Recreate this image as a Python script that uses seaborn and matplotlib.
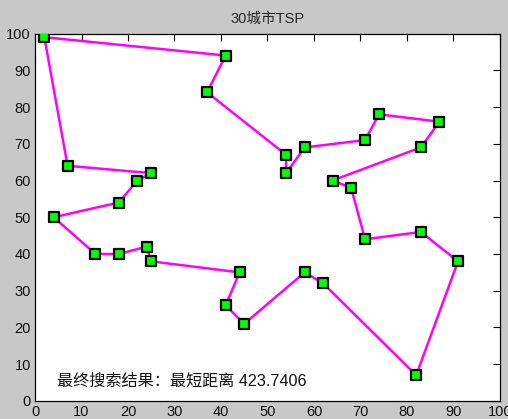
import matplotlib
matplotlib.use("Agg")
import matplotlib.pyplot as plt
import seaborn as sns
import pandas as pd

# Best tour found for the 30-city instance, in visiting order (closed loop)
tour_x = [2, 41, 37, 54, 54, 58, 71, 74, 87, 83, 64, 68, 71, 83, 91, 82,
          62, 58, 45, 41, 44, 25, 24, 18, 13, 4, 18, 22, 25, 7, 2]
tour_y = [99, 94, 84, 67, 62, 69, 71, 78, 76, 69, 60, 58, 44, 46, 38, 7,
          32, 35, 21, 26, 35, 38, 42, 40, 40, 50, 54, 60, 62, 64, 99]
best_length = 423.7406
title_text = "30城市TSP"
result_label = "最终搜索结果：最短距离"
ticks = [0, 10, 20, 30, 40, 50, 60, 70, 80, 90, 100]

sns.set_style("white")
plt.rcParams["font.family"] = ["Liberation Sans", "Noto Sans CJK SC", "DejaVu Sans"]

df = pd.DataFrame({"x": tour_x, "y": tour_y, "step": range(len(tour_x))})

fig = plt.figure(figsize=(5.08, 4.19), dpi=100, facecolor="#c8c8c8")
ax = fig.add_axes([0.069, 0.043, 0.915, 0.877])
ax.set_facecolor("white")

sns.lineplot(data=df, x="x", y="y", sort=False, estimator=None, ax=ax,
             color="#ff00ff", linewidth=1.8, zorder=2)
sns.scatterplot(data=df.iloc[:-1], x="x", y="y", ax=ax, marker="s", s=55,
                color="#00ff00", edgecolor="black", linewidth=1.6, zorder=3)

ax.set_xlim(0, 100)
ax.set_ylim(0, 100)
ax.set_xticks(ticks)
ax.set_yticks(ticks)
ax.set_xlabel("")
ax.set_ylabel("")
ax.tick_params(direction="in", length=5, width=0.8, color="black",
               top=True, right=True, labelsize=10.5, labelcolor="#111111", pad=3)
for sp in ax.spines.values():
    sp.set_visible(True)
    sp.set_color("black")
    sp.set_linewidth(0.9)

ax.set_title(title_text, fontsize=10.5, pad=8)
ax.text(4.7, 5.4, f"{result_label} {best_length:.4f}", fontsize=11.6,
        va="center", ha="left", color="#111111")

fig.savefig("out.png", dpi=100, facecolor=fig.get_facecolor())
